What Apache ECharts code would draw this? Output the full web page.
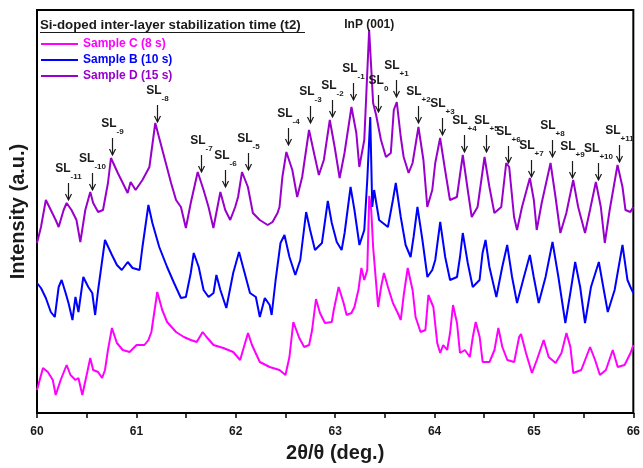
<!DOCTYPE html>
<html>
<head>
<meta charset="utf-8">
<script src="https://cdn.jsdelivr.net/npm/echarts@6/dist/echarts.min.js"></script>
<style>
  html, body { margin: 0; padding: 0; background: #fff; }
  #chart { width: 643px; height: 468px; }
</style>
</head>
<body>
<div id="chart"></div>
<script>
// 2theta (deg) vs intensity (a.u., offset traces)
const sampleC = [[60.000,23],[60.060,45],[60.109,41],[60.159,33],[60.188,18],[60.238,33],[60.298,48],[60.337,38],[60.387,33],[60.417,35],
  [60.456,18],[60.506,41],[60.536,55],[60.565,43],[60.615,41],[60.655,35],[60.684,43],[60.714,63],[60.754,85],[60.804,70],
  [60.863,63],[60.932,61],[61.002,68],[61.081,68],[61.121,73],[61.151,81],[61.210,121],[61.260,103],[61.309,91],[61.399,81],
  [61.478,76],[61.547,73],[61.607,71],[61.667,81],[61.706,76],[61.776,68],[61.875,65],[61.974,61],[62.044,53],[62.073,63],
  [62.123,80],[62.163,68],[62.242,51],[62.341,46],[62.440,43],[62.500,38],[62.540,56],[62.579,91],[62.639,75],[62.688,66],
  [62.738,68],[62.768,83],[62.807,114],[62.847,100],[62.897,90],[62.966,91],[62.986,103],[63.035,126],[63.085,110],[63.115,98],
  [63.164,100],[63.194,106],[63.234,123],[63.264,145],[63.293,133],[63.323,143],[63.343,217],[63.363,203],[63.382,166],[63.432,106],
  [63.462,126],[63.491,140],[63.531,126],[63.581,110],[63.630,100],[63.660,93],[63.690,118],[63.730,145],[63.779,123],[63.809,96],
  [63.859,81],[63.908,83],[63.938,118],[63.958,120],[63.988,106],[64.027,70],[64.057,60],[64.087,68],[64.127,63],[64.156,80],
  [64.186,108],[64.226,90],[64.256,60],[64.305,63],[64.355,56],[64.385,76],[64.414,91],[64.454,76],[64.484,51],[64.553,51],
  [64.603,63],[64.642,85],[64.682,66],[64.732,53],[64.801,51],[64.851,76],[64.870,79],[64.920,60],[64.980,40],[65.029,53],
  [65.098,73],[65.148,56],[65.218,50],[65.277,60],[65.327,80],[65.367,66],[65.396,40],[65.476,43],[65.565,66],[65.615,53],
  [65.664,38],[65.724,43],[65.793,63],[65.843,46],[65.912,48],[65.972,60],[66.000,68]];

const sampleB = [[60.000,130],[60.040,125],[60.089,115],[60.139,101],[60.179,96],[60.218,126],[60.248,133],[60.288,120],[60.317,110],[60.357,93],
  [60.387,116],[60.417,101],[60.466,136],[60.516,126],[60.556,120],[60.585,98],[60.615,123],[60.684,173],[60.754,158],[60.804,148],
  [60.853,143],[60.913,151],[60.962,145],[61.032,143],[61.061,166],[61.121,208],[61.161,190],[61.230,166],[61.309,146],[61.379,130],
  [61.448,115],[61.498,116],[61.547,140],[61.577,160],[61.627,146],[61.676,123],[61.726,116],[61.776,120],[61.805,138],[61.845,123],
  [61.905,105],[61.974,140],[62.033,161],[62.073,146],[62.143,120],[62.202,116],[62.242,96],[62.292,115],[62.341,108],[62.361,98],
  [62.401,133],[62.450,170],[62.490,178],[62.540,156],[62.599,138],[62.649,153],[62.708,201],[62.748,183],[62.797,163],[62.867,170],
  [62.926,212],[62.966,190],[63.016,171],[63.065,163],[63.095,180],[63.155,226],[63.194,203],[63.244,168],[63.293,183],[63.323,233],
  [63.353,296],[63.373,206],[63.392,223],[63.442,193],[63.531,186],[63.581,213],[63.610,230],[63.660,196],[63.709,168],[63.759,156],
  [63.789,176],[63.828,206],[63.878,173],[63.928,136],[63.977,143],[64.007,153],[64.057,191],[64.107,156],[64.156,133],[64.226,136],
  [64.256,156],[64.284,180],[64.334,150],[64.384,126],[64.453,133],[64.483,160],[64.513,173],[64.552,146],[64.622,116],[64.681,146],
  [64.731,168],[64.780,136],[64.830,110],[64.899,136],[64.959,158],[64.998,136],[65.048,110],[65.117,136],[65.187,171],[65.246,136],
  [65.316,90],[65.366,120],[65.415,151],[65.465,126],[65.514,90],[65.574,126],[65.653,151],[65.703,123],[65.743,101],[65.812,123],
  [65.891,168],[65.941,133],[65.971,126],[66.000,120]];

const sampleD = [[60.000,170],[60.040,186],[60.089,213],[60.139,203],[60.188,193],[60.218,186],[60.268,203],[60.298,210],[60.347,203],[60.397,193],
  [60.436,171],[60.486,203],[60.536,221],[60.565,210],[60.615,201],[60.664,203],[60.714,230],[60.744,255],[60.813,240],[60.863,230],
  [60.912,220],[60.942,231],[60.992,223],[61.061,233],[61.131,246],[61.190,290],[61.280,256],[61.349,230],[61.399,213],[61.448,206],
  [61.498,185],[61.547,210],[61.617,241],[61.676,223],[61.726,206],[61.775,185],[61.845,221],[61.894,203],[61.944,193],[61.994,206],
  [62.023,216],[62.063,241],[62.122,226],[62.172,200],[62.241,193],[62.321,188],[62.370,191],[62.420,200],[62.440,206],[62.469,236],
  [62.509,261],[62.569,243],[62.618,216],[62.668,236],[62.737,283],[62.787,260],[62.836,238],[62.886,253],[62.946,293],[62.995,266],
  [63.045,235],[63.094,260],[63.164,306],[63.213,280],[63.243,246],[63.293,273],[63.342,383],[63.382,310],[63.412,298],[63.461,273],
  [63.511,256],[63.560,260],[63.590,303],[63.620,311],[63.660,276],[63.689,256],[63.739,240],[63.779,250],[63.838,286],[63.888,253],
  [63.927,206],[63.977,223],[64.007,250],[64.056,275],[64.106,243],[64.155,213],[64.225,216],[64.284,258],[64.334,223],[64.374,196],
  [64.433,206],[64.503,256],[64.552,226],[64.602,200],[64.671,206],[64.721,250],[64.751,246],[64.800,196],[64.830,183],[64.880,206],
  [64.959,235],[64.999,213],[65.028,183],[65.078,210],[65.167,250],[65.217,216],[65.266,180],[65.326,200],[65.395,233],[65.445,206],
  [65.514,180],[65.564,203],[65.623,231],[65.673,206],[65.713,170],[65.762,203],[65.841,248],[65.891,226],[65.921,203],[65.970,201],
  [66.000,206]];

// satellite peak labels: subscript, 2theta, arrow tip intensity
const slSub = ['-11','-10','-9','-8','-7','-6','-5','-4','-3','-2','-1','0','+1','+2','+3','+4','+5','+6','+7','+8','+9','+10','+11'];
const slX = [60.307,60.555,60.754,61.210,61.646,61.894,62.122,62.529,62.747,62.965,63.184,63.432,63.610,63.838,64.076,64.294,64.522,64.741,64.969,65.177,65.385,65.643,65.851];
const slTip = [213,223,258,291,241,226,243,268,290,296,313,301,316,290,278,261,261,250,236,256,235,233,251];

const substrateLabel = 'InP (001)';
const substratePos = [63.343, 388];

const xTicks = [60, 61, 62, 63, 64, 65, 66];

const names = ['Sample C (8 s)', 'Sample B (10 s)', 'Sample D (15 s)'];
const colors = ['#ff00ff', '#0000ff', '#9900cc'];

const FONT = 'Liberation Sans, Arial, sans-serif';
const INK = '#1a1a1a';

let myChart = echarts.init(document.getElementById('chart'));

function slRender(params, api) {
  let p = api.coord([api.value(0), api.value(1)]);
  let x = Math.round(p[0]) + 0.5, y = p[1];
  return {
    type: 'group',
    children: [
      { type: 'line', shape: { x1: x, y1: y - 17, x2: x, y2: y }, style: { stroke: INK, lineWidth: 1.2 } },
      { type: 'polyline', shape: { points: [[x - 3, y - 6], [x, y], [x + 3, y - 6]] }, style: { stroke: INK, lineWidth: 1.2, fill: null } },
      { type: 'text', style: {
          text: '{a|SL}{b|' + slSub[params.dataIndex] + '}',
          x: x, y: y - 19,
          align: 'center', verticalAlign: 'bottom',
          rich: {
            a: { fontSize: 12, fontWeight: 'bold', fontFamily: FONT, fill: INK, lineHeight: 18, verticalAlign: 'top' },
            b: { fontSize: 8, fontWeight: 'bold', fontFamily: FONT, fill: INK, lineHeight: 9, verticalAlign: 'bottom' }
          }
      } }
    ]
  };
}

function peakRender(params, api) {
  let p = api.coord([api.value(0), api.value(1)]);
  return {
    type: 'text',
    style: { text: substrateLabel, x: p[0], y: p[1], align: 'center', verticalAlign: 'middle',
      font: 'bold 12px ' + FONT, fill: INK }
  };
}

let option = {
  animation: false,
  backgroundColor: '#fff',
  grid: { left: 31, right: 7, top: 10, bottom: 55, show: true, borderColor: '#000', borderWidth: 2, backgroundColor: 'transparent' },
  legend: {
    orient: 'vertical', left: 36, top: 33, itemWidth: 37, itemHeight: 2, itemGap: 4, icon: 'rect',
    data: names.map((n, i) => ({ name: n, textStyle: { color: colors[i] } })),
    textStyle: { fontFamily: FONT, fontWeight: 'bold', fontSize: 12 }
  },
  graphic: [
    { type: 'text', left: 40, top: 19, style: { text: 'Si-doped inter-layer stabilization time (t2)', font: 'bold 13.3px ' + FONT, fill: INK } },
    { type: 'line', shape: { x1: 40, y1: 32.5, x2: 305, y2: 32.5 }, style: { stroke: INK, lineWidth: 1.2 } }
  ],
  xAxis: {
    type: 'value', min: 60, max: 66, interval: 0.5,
    name: '2θ/θ (deg.)', nameLocation: 'middle', nameGap: 30,
    nameTextStyle: { fontFamily: FONT, fontWeight: 'bold', fontSize: 20, color: INK },
    axisLine: { lineStyle: { color: '#000', width: 2 } },
    axisTick: { length: 5, lineStyle: { color: '#000', width: 1.5 } },
    axisLabel: { margin: 13, fontFamily: FONT, fontWeight: 'bold', fontSize: 12, color: INK,
      formatter: v => (xTicks.indexOf(v) >= 0 ? String(v) : '') },
    splitLine: { show: false }
  },
  yAxis: {
    type: 'value', min: 0, max: 403,
    name: 'Intensity (a.u.)', nameLocation: 'middle', nameGap: 9,
    nameTextStyle: { fontFamily: FONT, fontWeight: 'bold', fontSize: 20, color: INK },
    axisLine: { show: true, lineStyle: { color: '#000', width: 2 } },
    axisTick: { show: false }, axisLabel: { show: false }, splitLine: { show: false }
  },
  series: [
    { name: names[0], type: 'line', data: sampleC, symbol: 'none', lineStyle: { color: colors[0], width: 2 }, itemStyle: { color: colors[0] } },
    { name: names[1], type: 'line', data: sampleB, symbol: 'none', lineStyle: { color: colors[1], width: 2 }, itemStyle: { color: colors[1] } },
    { name: names[2], type: 'line', data: sampleD, symbol: 'none', lineStyle: { color: colors[2], width: 2 }, itemStyle: { color: colors[2] } },
    { type: 'custom', renderItem: slRender, data: slX.map((x, i) => [x, slTip[i]]), silent: true, z: 5 },
    { type: 'custom', renderItem: peakRender, data: [substratePos], silent: true, z: 5 }
  ]
};
myChart.setOption(option);
</script>
</body>
</html>
